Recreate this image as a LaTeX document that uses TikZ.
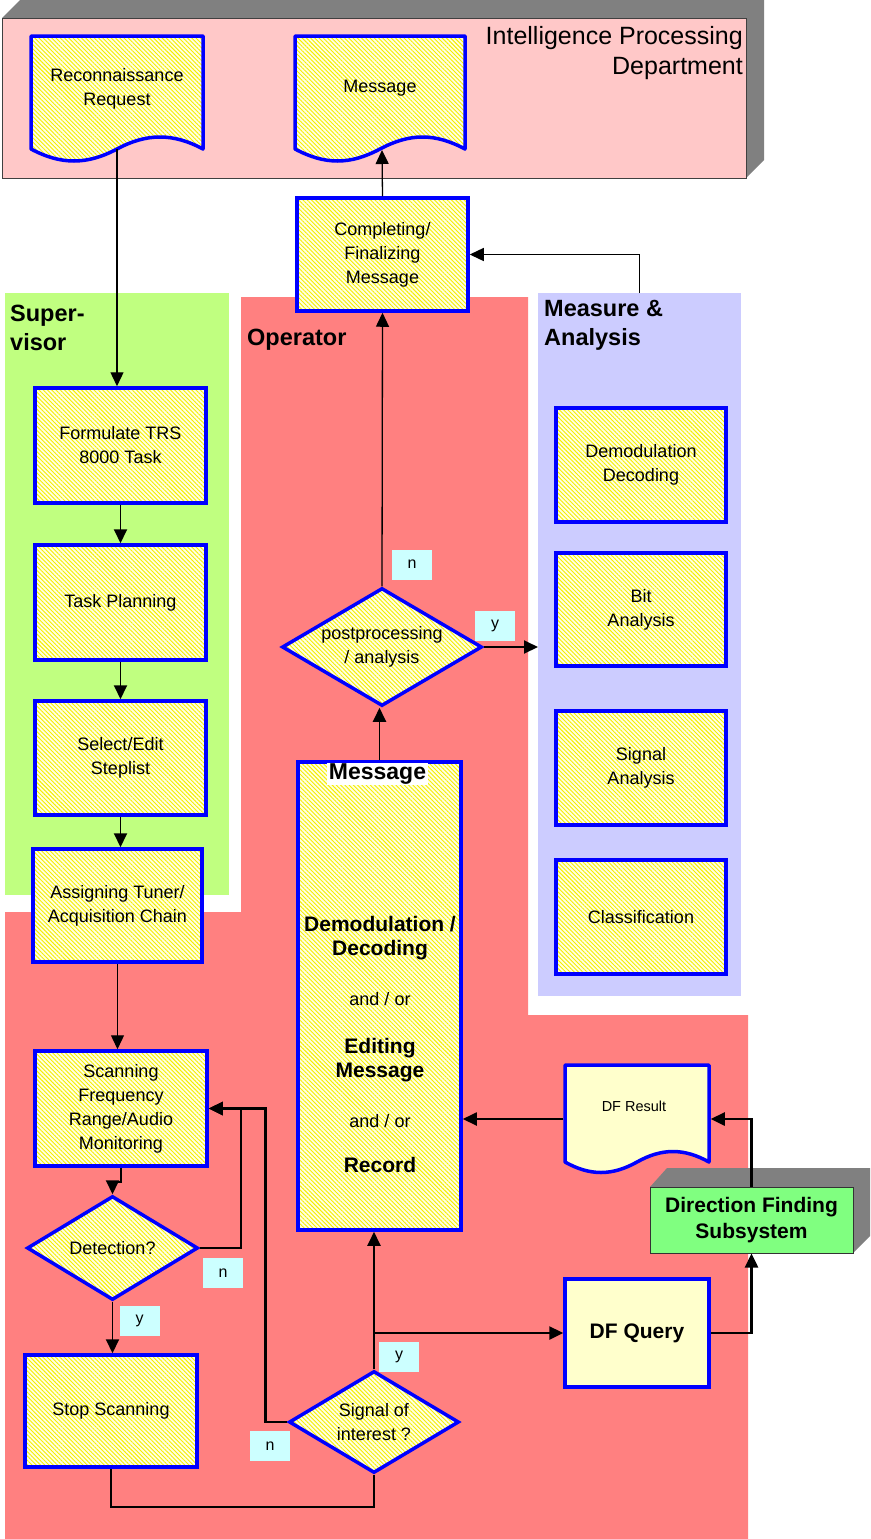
\documentclass[tikz,border=0pt]{standalone}
\usepackage{fontspec}
\setmainfont{Liberation Sans}
\usetikzlibrary{shapes.geometric,arrows.meta,patterns.meta}
\definecolor{ipdpink}{HTML}{FFC8C8}
\definecolor{shadegrey}{HTML}{808080}
\definecolor{supgreen}{HTML}{C0FF80}
\definecolor{opred}{HTML}{FF8080}
\definecolor{mablue}{HTML}{CCCCFF}
\definecolor{lblcyan}{HTML}{CCFFFF}
\definecolor{paley}{HTML}{FFFFCC}
\definecolor{hatchbg}{HTML}{FFFFE4}
\definecolor{hatchy}{HTML}{F5EE00}
\definecolor{dfgreen}{HTML}{80FF80}
\definecolor{bord}{HTML}{0000FF}
\newcommand\fntA{\fontsize{18}{24}\selectfont}
\newcommand\fntB{\fontsize{23.5}{29}\selectfont\bfseries}
\newcommand\fntI{\fontsize{25}{30}\selectfont}
\newcommand\fntY{\fontsize{16}{19}\selectfont}
\newcommand\fntS{\fontsize{14.5}{17}\selectfont}
\newcommand\fntM{\fontsize{21}{24}\selectfont\bfseries}
\newcommand\fntT{\fontsize{23}{26}\selectfont\bfseries}
\newcommand\fntD{\fontsize{21}{26}\selectfont\bfseries}
\tikzset{
  hatch/.style={preaction={fill=hatchbg}, pattern={Lines[angle=-45,distance=3pt,line width=0.9pt]}, pattern color=hatchy},
  pbox/.style={rectangle, draw=bord, line width=3.5pt, hatch, inner sep=2pt, align=center, font=\fntA},
  sbox/.style={rectangle, draw=bord, line width=3.5pt, fill=paley, inner sep=2pt, align=center},
  pdia/.style={diamond, draw=bord, line width=3.5pt, hatch, inner sep=0pt, align=center, font=\fntA},
  docline/.style={draw=bord, line width=3.5pt, line join=round},
  docanchor/.style={rectangle, draw=none, inner sep=0pt, outer sep=1.75pt, align=center},
  lbl/.style={rectangle, fill=lblcyan, minimum width=40pt, minimum height=30pt, inner sep=0pt, font=\fntY},
  region/.style={rectangle, draw=none, inner sep=0pt, outer sep=0pt},
  tip/.style={-{Triangle[length=14pt,width=13pt]}},
  thinc/.style={draw=black, line width=1.3pt, tip},
  medc/.style={draw=black, line width=1.9pt, tip},
  thickc/.style={draw=black, line width=2.5pt, tip},
  thickl/.style={draw=black, line width=2.5pt},
}
\begin{document}
\begin{tikzpicture}[x=1pt,y=-1pt]
\useasboundingbox (0,0) rectangle (870,1539);
% ---------- regions ----------
\fill[shadegrey] (2,18) -- (20,0) -- (764,0) -- (764,160) -- (746,178) -- cycle;
\node[region, fill=ipdpink, draw=black!75, line width=1pt, minimum width=744pt, minimum height=160pt] (ipd) at (374,98) {};
\node[region, fill=supgreen, minimum width=224pt, minimum height=602pt] (sup) at (117,594) {};
\fill[opred] (241,297) -- (528,297) -- (528,1015) -- (748,1015) -- (748,1539) -- (5,1539) -- (5,912) -- (241,912) -- cycle;
\node[region, fill=mablue, minimum width=203pt, minimum height=703pt] (marea) at (639.5,644.5) {};
% ---------- region labels ----------
\node[anchor=north east, align=right, inner sep=0pt, font=\fntI] (ipdlbl) at (743,26) {Intelligence Processing\\Department};
\node[anchor=north west, align=left, inner sep=0pt, font=\fntB] (suplbl) at (10,305) {Super-\\visor};
\node[anchor=north west, align=left, inner sep=0pt, font=\fntB] (oplbl) at (247,329) {Operator};
\node[anchor=north west, align=left, inner sep=0pt, font=\fntB] (malbl) at (544,300) {Measure \&\\Analysis};
% ---------- documents ----------
\draw[docline, hatch] (31,36) -- (203,36) -- (203,149) .. controls (173,133) and (147,133) .. (117,149) .. controls (87,165) and (61,165) .. (31,149) -- cycle;
\node[docanchor, font=\fntA, minimum width=172pt, minimum height=106pt] (rec) at (117,89) {Reconnaissance\\Request};
\coordinate (recw) at (117,149);
\draw[docline, hatch] (295,36) -- (465,36) -- (465,149) .. controls (435,133) and (410,133) .. (380,149) .. controls (350,165) and (325,165) .. (295,149) -- cycle;
\node[docanchor, font=\fntA, minimum width=170pt, minimum height=106pt] (msgdoc) at (380,88) {Message};
\coordinate (msgw) at (382,150);
\draw[docline, fill=paley] (565,1065) -- (709,1065) -- (709,1162) .. controls (684,1148) and (662,1148) .. (637,1162) .. controls (612,1176) and (590,1176) .. (565,1162) -- cycle;
\node[docanchor, minimum width=144pt, minimum height=108pt] (dfr) at (637,1119) {};
\node[inner sep=0pt, font=\fntS] (dfrlbl) at (634,1106) {DF Result};
% ---------- process boxes ----------
\node[pbox, minimum width=171pt, minimum height=113pt] (comp) at (382.5,254.5) {Completing/\\Finalizing\\Message};
\node[pbox, minimum width=171pt, minimum height=115pt] (ftrs) at (120.5,445.5) {Formulate TRS\\8000 Task};
\node[pbox, minimum width=171pt, minimum height=115pt] (tplan) at (120.5,602.5) {Task Planning};
\node[pbox, minimum width=171pt, minimum height=114pt] (sel) at (120.5,758) {Select/Edit\\Steplist};
\node[pbox, minimum width=169pt, minimum height=113pt] (assign) at (117.5,905.5) {Assigning Tuner/\\Acquisition Chain};
\node[pbox, minimum width=172pt, minimum height=115pt] (scan) at (121,1108.5) {Scanning\\Frequency\\Range/Audio\\Monitoring};
\node[pdia, aspect=1.64, minimum width=171pt, minimum height=104pt] (det) at (112.5,1248) {Detection?};
\node[pbox, minimum width=172pt, minimum height=112pt] (stop) at (111,1411) {Stop Scanning};
\node[pdia, aspect=1.67, minimum width=170pt, minimum height=102pt] (soi) at (374,1422) {Signal of\\interest ?};
\node[pbox, minimum width=163pt, minimum height=468pt] (msgbox) at (379.5,996) {};
\node[fill=white, inner sep=0pt, minimum width=101pt, minimum height=22pt, font=\fntT] (msgtitle) at (377.5,774) {Message};
\node[font=\fntA, align=center, inner sep=0pt] (msgbody) at (380,1044) {{\fntM Demodulation /}\\{\fntM Decoding}\\[26pt]and / or\\[24pt]{\fntM Editing}\\{\fntM Message}\\[26pt]and / or\\[21pt]{\fntM Record}};
\node[pdia, aspect=1.7, minimum width=200pt, minimum height=118pt] (pp) at (382,647) {postprocessing\\/ analysis};
\node[pbox, minimum width=170pt, minimum height=114pt] (dem) at (641,465) {Demodulation\\Decoding};
\node[pbox, minimum width=170pt, minimum height=113pt] (bit) at (641,609.5) {Bit\\Analysis};
\node[pbox, minimum width=170pt, minimum height=114pt] (sig) at (641,768) {Signal\\Analysis};
\node[pbox, minimum width=170pt, minimum height=114pt] (cls) at (641,917) {Classification};
\node[sbox, minimum width=144pt, minimum height=108pt, font=\fntD] (dfq) at (637,1333) {DF Query};
\fill[shadegrey] (650,1187) -- (667,1168) -- (870,1168) -- (870,1236) -- (853,1253) -- cycle;
\node[rectangle, fill=dfgreen, draw=black!80, line width=1pt, minimum width=203pt, minimum height=66pt, align=center, font=\fntD, inner sep=0pt] (dfs) at (751.5,1220) {Direction Finding\\Subsystem};
% ---------- y/n labels ----------
\node[lbl] (n1) at (412,564.5) {n};
\node[lbl] (y1) at (495,626) {y};
\node[lbl] (n2) at (223,1273) {n};
\node[lbl] (y2) at (139.5,1321) {y};
\node[lbl] (y3) at (399,1357) {y};
\node[lbl] (n3) at (270,1446) {n};
% ---------- connectors ----------
\draw[thinc] (recw) -- (recw |- ftrs.north);
\draw[thinc] (comp.north) -- (msgw);
\draw[thinc] (marea.north) |- (comp.east);
\draw[medc] (ftrs.south) -- (tplan.north);
\draw[medc] (tplan.south) -- (sel.north);
\draw[medc] (sel.south) -- (sel.south |- assign.north);
\draw[thinc] (assign.south) -- (assign.south |- scan.north);
\draw[medc] (scan.south) -- ++(0,14) -| (det.north);
\draw[thickc] (det.east) -- ++(41,0) |- (scan.east);
\draw[thickc] (soi.west) -- ++(-22,0) |- (scan.east);
\draw[medc] (det.south) -- (det.south |- stop.north);
\draw[thickl] (stop.south) -- ++(0,38) -| (soi.south);
\draw[medc] (soi.north) -- (soi.north |- msgbox.south);
\coordinate (br) at (soi.north |- dfq.west);
\draw[thickc] (br) -- (dfq.west);
\draw[thickc] (dfq.east) -| (dfs.south);
\draw[thickc] (dfs.north) |- (dfr.east);
\draw[medc] (dfr.west) -- (dfr.west -| msgbox.east);
\draw[medc] (msgbox.north) -- (msgbox.north |- pp.south);
\draw[thinc] (pp.north) -- (comp.south);
\draw[medc] (pp.east) -- (pp.east -| marea.west);
\end{tikzpicture}
\end{document}
